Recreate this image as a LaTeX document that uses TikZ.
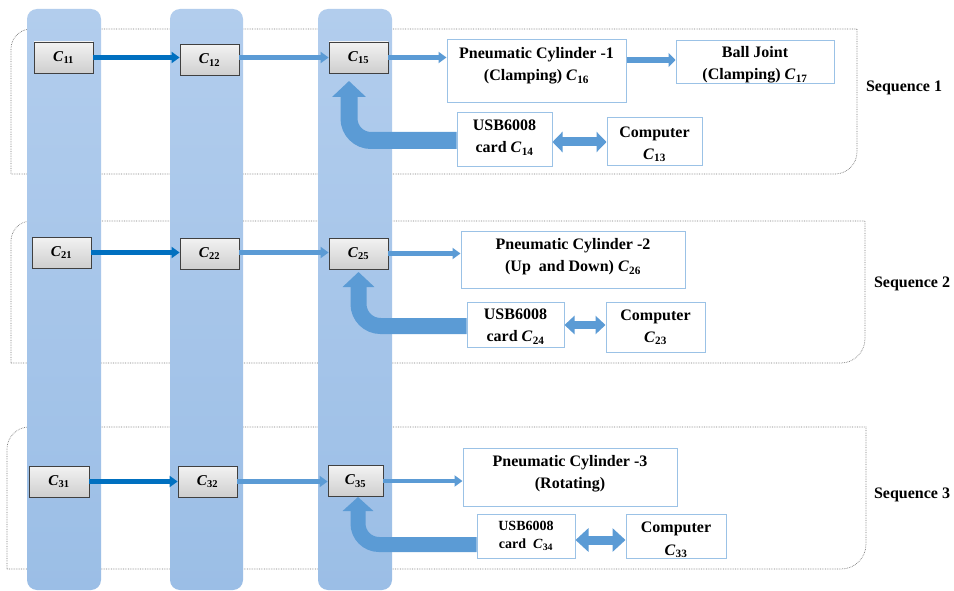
\RequirePackage{fix-cm}
\documentclass[tikz,border=0pt]{standalone}
\usepackage{fontspec}
\setmainfont{Liberation Serif}
\usetikzlibrary{arrows.meta}
\definecolor{bartop}{RGB}{178,205,237}
\definecolor{barbot}{RGB}{155,190,230}
\definecolor{darkarrow}{RGB}{0,112,192}
\definecolor{lightarrow}{RGB}{91,155,213}
\definecolor{boxedge}{RGB}{155,194,230}
\definecolor{framegray}{RGB}{120,120,120}
\definecolor{grayedge}{RGB}{64,64,64}
\newcommand{\csub}[1]{\textbf{\textit{C}}\kern0.3pt\textsubscript{\bfseries #1}}
\begin{document}
\begin{tikzpicture}[x=1pt,y=-1pt,
  frame/.style={draw=framegray, densely dotted, line width=0.7pt},
  bar/.style={top color=bartop, bottom color=barbot, draw=none, rounded corners=10pt},
  graybox/.style={draw=grayedge, line width=0.8pt, top color=gray!10, bottom color=gray!38,
    minimum height=31pt, inner sep=0pt, font=\fontsize{15}{17}\selectfont},
  wbox/.style={draw=boxedge, line width=1pt, fill=white, inner sep=0pt},
  lbl/.style={font=\bfseries\fontsize{16}{22}\selectfont, align=center, inner sep=0pt},
  seqlbl/.style={font=\bfseries\fontsize{16}{19}\selectfont, inner sep=0pt},
  thinarrow/.style={line width=4.5pt, -{Triangle[length=8pt,width=11pt]}},
  uarrow/.style={draw=lightarrow, line width=17pt, -{Triangle[length=16pt,width=33pt]}},
]
\useasboundingbox (0,0) rectangle (954,591);
\fill[white] (0,0) rectangle (954,591);

% sequence frames
\draw[frame] (11,174) -- (11,49) .. controls (11,38) and (20,29) .. (31,29) -- (857,29) -- (857,152) .. controls (857,164) and (847,174) .. (835,174) -- cycle;
\draw[frame] (11,363) -- (11,241) .. controls (11,230) and (20,221) .. (31,221) -- (865,221) -- (865,339) .. controls (865,352) and (854,363) .. (841,363) -- cycle;
\draw[frame] (7,569) -- (7,449) .. controls (7,437) and (17,427) .. (29,427) -- (866,427) -- (866,544) .. controls (866,558) and (855,569) .. (841,569) -- cycle;

% vertical bars
\path[bar] (27,9) rectangle (101,590);
\path[bar] (170,9) rectangle (243,590);
\path[bar] (318,9) rectangle (392,590);

% gray boxes
\node[graybox, minimum width=59pt] (c11) at (63.5,57.5) {\csub{11}};
\node[graybox, minimum width=59pt] (c12) at (209.5,60) {\csub{12}};
\node[graybox, minimum width=59pt] (c15) at (358.5,57.5) {\csub{15}};
\node[graybox, minimum width=59pt] (c21) at (61.5,252.5) {\csub{21}};
\node[graybox, minimum width=59pt] (c22) at (209.5,253.5) {\csub{22}};
\node[graybox, minimum width=59pt] (c25) at (358.5,253.5) {\csub{25}};
\node[graybox, minimum width=60pt] (c31) at (59,481.5) {\csub{31}};
\node[graybox, minimum width=59pt] (c32) at (207.5,481.5) {\csub{32}};
\node[graybox, minimum width=55pt] (c35) at (355.5,481) {\csub{35}};

% white boxes
\node[wbox, minimum width=179pt, minimum height=63pt] (p16) at (536.5,71.5) {};
\node[wbox, minimum width=158pt, minimum height=43pt] (b17) at (755,62.5) {};
\node[wbox, minimum width=95pt, minimum height=54pt] (u14) at (504.5,140) {};
\node[wbox, minimum width=95pt, minimum height=48pt] (k13) at (654.5,142) {};
\node[wbox, minimum width=224pt, minimum height=56pt] (p26) at (573,260) {};
\node[wbox, minimum width=97pt, minimum height=45pt] (u24) at (515.5,324.5) {};
\node[wbox, minimum width=99pt, minimum height=50pt] (k23) at (655.5,327) {};
\node[wbox, minimum width=214pt, minimum height=58pt] (p36) at (570,477) {};
\node[wbox, minimum width=98pt, minimum height=44pt] (u34) at (526,536) {};
\node[wbox, minimum width=100pt, minimum height=44pt] (k33) at (676,536) {};

% texts
\node[lbl] (t16) at (536.5,66) {Pneumatic Cylinder -1\\(Clamping) \csub{16}};
\node[lbl] (t17) at (755,65) {Ball Joint\\(Clamping) \csub{17}};
\node[lbl] (t14) at (504.5,137.5) {USB6008\\card \csub{14}};
\node[lbl] (t13) at (654.5,144) {Computer\\\csub{13}};
\node[lbl] (t26) at (573,257) {Pneumatic Cylinder -2\\(Up~ and Down) \csub{26}};
\node[lbl] (t24) at (515.5,326.5) {USB6008\\card \csub{24}};
\node[lbl] (t23) at (655.5,327.5) {Computer\\\csub{23}};
\node[lbl] (t36) at (570,473.5) {Pneumatic Cylinder -3\\(Rotating)};
\node[lbl, font=\bfseries\fontsize{14}{18}\selectfont] (t34) at (526,536) {USB6008\\card~ \csub{34}};
\node[lbl, font=\bfseries\fontsize{16}{23}\selectfont] (t33) at (676,539.5) {Computer\\\csub{33}};

\node[seqlbl] (s1) at (904,88) {Sequence 1};
\node[seqlbl] (s2) at (912,284) {Sequence 2};
\node[seqlbl] (s3) at (912,495) {Sequence 3};

% horizontal arrows
\draw[thinarrow, darkarrow] (c11.east) -- (c11.east -| c12.west);
\draw[thinarrow, lightarrow] (c12.east |- c11.east) -- (c15.west);
\draw[thinarrow, lightarrow] (c15.east) -- (c15.east -| p16.west);
\draw[line width=6pt, lightarrow, -{Triangle[length=7pt,width=14pt]}] (p16.east |- 0,60) -- (b17.west |- 0,60);

\draw[thinarrow, darkarrow] (c21.east) -- (c21.east -| c22.west);
\draw[thinarrow, lightarrow] (c22.east |- c21.east) -- (c21.east -| c25.west);
\draw[thinarrow, lightarrow] (c25.east) -- (c25.east -| p26.west);

\draw[thinarrow, darkarrow] (c31.east) -- (c31.east -| c32.west);
\draw[thinarrow, lightarrow] (c32.east) -- (c32.east -| c35.west);
\draw[thinarrow, lightarrow] (c35.east) -- (c35.east -| p36.west);

% U arrows
\draw[uarrow, rounded corners=22pt] (u14.west |- 0,140.5) -| (349,81);
\draw[uarrow, line width=16pt, -{Triangle[length=15pt,width=31pt]}, rounded corners=22pt] (u24.west |- 0,326) -| (358.5,272);
\draw[uarrow, line width=15pt, -{Triangle[length=14pt,width=30pt]}, rounded corners=21pt] (u34.west |- 0,544.5) -| (358,497);

% double arrows
\draw[lightarrow, line width=9pt, {Triangle[length=10pt,width=20pt]}-{Triangle[length=10pt,width=20pt]}] (u14.east |- k13.west) -- (k13.west);
\draw[lightarrow, line width=8pt, {Triangle[length=10pt,width=18pt]}-{Triangle[length=10pt,width=18pt]}] (u24.east |- 0,325) -- (k23.west |- 0,325);
\draw[lightarrow, line width=9pt, {Triangle[length=13pt,width=23pt]}-{Triangle[length=13pt,width=23pt]}] (u34.east |- 0,540) -- (k33.west |- 0,540);
\end{tikzpicture}
\end{document}
